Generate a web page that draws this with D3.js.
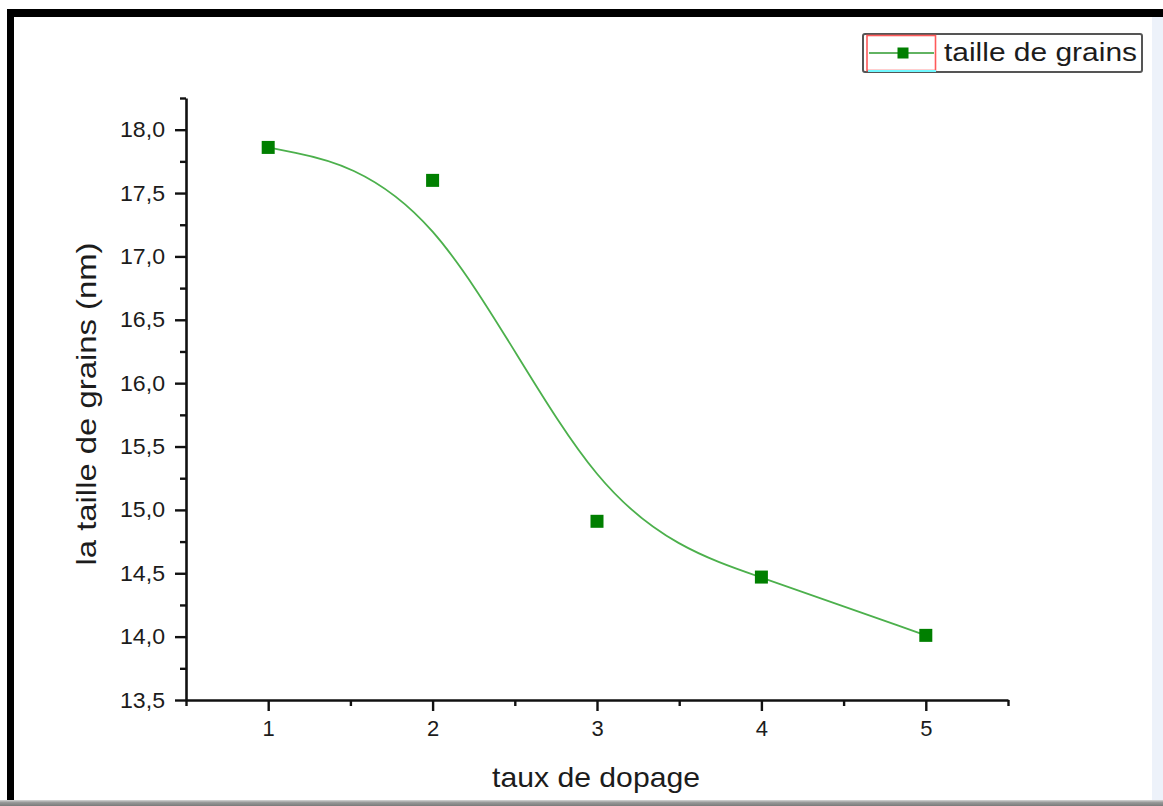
<!DOCTYPE html>
<html>
<head>
<meta charset="utf-8">
<script src="https://cdn.jsdelivr.net/npm/d3@7"></script>
<style>
  html, body { margin: 0; padding: 0; background: #fff; }
  svg text { font-family: "Liberation Sans", Arial, sans-serif; fill: #1c1c1c; }
  .axis path, .axis line { stroke: #111; }
</style>
</head>
<body>
<svg id="chart" width="1163" height="806"></svg>
<script>
// data
const dopage = [1, 2, 3, 4, 5];
const taille = [17.86, 17.60, 14.91, 14.47, 14.01];
const xMajor = [1, 2, 3, 4, 5];
const xMinor = [0.5, 1.5, 2.5, 3.5, 4.5, 5.5];
const yMajor = [13.5, 14.0, 14.5, 15.0, 15.5, 16.0, 16.5, 17.0, 17.5, 18.0];
const yMinor = [13.75, 14.25, 14.75, 15.25, 15.75, 16.25, 16.75, 17.25, 17.75, 18.25];
const seriesName = "taille de grains";

const svg = d3.select("#chart");
const W = 1163, H = 806;

// page frame (screenshot edges)
svg.append("rect").attr("x", 1152).attr("y", 17).attr("width", 11).attr("height", 784).attr("fill", "#edf2fa");
svg.append("rect").attr("x", 7).attr("y", 9).attr("width", W - 7).attr("height", 8).attr("fill", "#000");
svg.append("rect").attr("x", 7).attr("y", 9).attr("width", 7).attr("height", 792).attr("fill", "#000");
const grad = svg.append("defs").append("linearGradient")
    .attr("id", "bottomBar").attr("x1", 0).attr("y1", 0).attr("x2", 0).attr("y2", 1);
grad.append("stop").attr("offset", "0%").attr("stop-color", "#d8d8d8");
grad.append("stop").attr("offset", "40%").attr("stop-color", "#9a9a9a");
grad.append("stop").attr("offset", "100%").attr("stop-color", "#7a7a7a");
svg.append("rect").attr("x", 0).attr("y", 800).attr("width", W).attr("height", 6).attr("fill", "url(#bottomBar)");

const x = d3.scaleLinear().domain([0.5, 5.5]).range([186, 1008]);
const y = d3.scaleLinear().domain([13.5, 18.25]).range([700, 98]);

const fr = d3.formatLocale({decimal: ",", thousands: " ", grouping: [3], currency: ["", ""]});
const fmt = fr.format(".1f");

// minor ticks
svg.append("g").attr("class", "axis")
    .attr("transform", "translate(0,700)")
    .call(d3.axisBottom(x).tickValues(xMinor).tickSize(6).tickFormat(""))
    .call(g => g.select(".domain").remove())
    .selectAll("line").attr("stroke-width", 2.4);
svg.append("g").attr("class", "axis")
    .attr("transform", "translate(186,0)")
    .call(d3.axisLeft(y).tickValues(yMinor).tickSize(6).tickFormat(""))
    .call(g => g.select(".domain").remove())
    .selectAll("line").attr("stroke-width", 2.4);

// x axis
const xAxis = svg.append("g").attr("class", "axis")
    .attr("transform", "translate(0,700)")
    .call(d3.axisBottom(x).tickValues(xMajor).tickSize(11).tickSizeOuter(0).tickPadding(9).tickFormat(d3.format("d")));
xAxis.select(".domain").attr("stroke-width", 2.6);
xAxis.selectAll(".tick line").attr("stroke-width", 2.4);
xAxis.selectAll(".tick text").attr("font-size", 22).attr("fill", "#1c1c1c");

// y axis
const yAxis = svg.append("g").attr("class", "axis")
    .attr("transform", "translate(186,0)")
    .call(d3.axisLeft(y).tickValues(yMajor).tickSize(11).tickSizeOuter(0).tickPadding(10).tickFormat(fmt));
yAxis.select(".domain").attr("stroke-width", 2.6);
yAxis.selectAll(".tick line").attr("stroke-width", 2.4);
yAxis.selectAll(".tick text").attr("font-size", 22).attr("fill", "#1c1c1c")
    .attr("textLength", 45).attr("lengthAdjust", "spacingAndGlyphs");

// titles
svg.append("text")
    .attr("x", 596).attr("y", 787)
    .attr("text-anchor", "middle")
    .attr("font-size", 28)
    .attr("textLength", 208).attr("lengthAdjust", "spacingAndGlyphs")
    .text("taux de dopage");
svg.append("text")
    .attr("transform", "translate(96,404) rotate(-90)")
    .attr("text-anchor", "middle")
    .attr("font-size", 28)
    .attr("textLength", 323).attr("lengthAdjust", "spacingAndGlyphs")
    .text("la taille de grains (nm)");

// B-spline curve, data points used as control points
const pts = dopage.map((d, i) => [d, taille[i]]);
const line = d3.line().x(d => x(d[0])).y(d => y(d[1])).curve(d3.curveBasis);
svg.append("path")
    .datum(pts)
    .attr("d", line)
    .attr("fill", "none")
    .attr("stroke", "#4cb04c")
    .attr("stroke-width", 1.8);

const MS = 13;
svg.append("g").selectAll("rect")
    .data(pts)
    .join("rect")
    .attr("x", d => x(d[0]) - MS / 2)
    .attr("y", d => y(d[1]) - MS / 2)
    .attr("width", MS).attr("height", MS)
    .attr("fill", "#007f00");

// legend
const lg = svg.append("g");
lg.append("rect").attr("x", 863).attr("y", 34).attr("width", 279).attr("height", 38)
    .attr("rx", 2).attr("fill", "#fff").attr("stroke", "#555").attr("stroke-width", 2);
lg.append("rect").attr("x", 867).attr("y", 35.5).attr("width", 68.5).attr("height", 35)
    .attr("fill", "none").attr("stroke", "#ff5a5a").attr("stroke-width", 1.6);
lg.append("line").attr("x1", 868).attr("x2", 936).attr("y1", 71).attr("y2", 71)
    .attr("stroke", "#70f8ff").attr("stroke-width", 2);
lg.append("line").attr("x1", 869).attr("x2", 934).attr("y1", 53).attr("y2", 53)
    .attr("stroke", "#2e9a2e").attr("stroke-width", 1.5);
lg.append("rect").attr("x", 903 - 5.5).attr("y", 53 - 5.5).attr("width", 11).attr("height", 11)
    .attr("fill", "#007f00");
lg.append("text").attr("x", 944).attr("y", 61)
    .attr("font-size", 25)
    .attr("textLength", 193).attr("lengthAdjust", "spacingAndGlyphs")
    .text(seriesName);
</script>
</body>
</html>
